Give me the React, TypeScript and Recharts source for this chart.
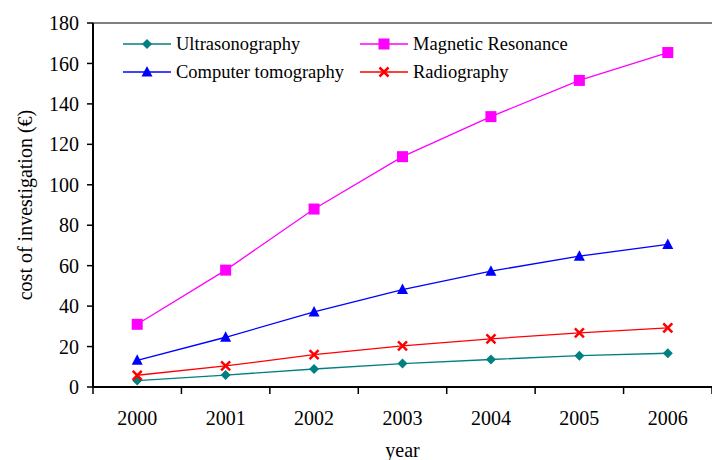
import React from "react";
import {
  LineChart,
  Line,
  XAxis,
  YAxis,
  ReferenceLine,
} from "recharts";

const years = [2000, 2001, 2002, 2003, 2004, 2005, 2006];
const ultrasonography = [3.2, 5.9, 8.9, 11.6, 13.6, 15.5, 16.7];
const magneticResonance = [31, 57.8, 88, 113.9, 133.7, 151.6, 165.4];
const computerTomography = [13.2, 24.6, 37.1, 48.2, 57.3, 64.7, 70.5];
const radiography = [5.8, 10.4, 16, 20.3, 23.8, 26.8, 29.2];
const yTicks = [0, 20, 40, 60, 80, 100, 120, 140, 160, 180];

// tick marks sit between the years, labels on the years
const xTicks = [...years.map((y) => y - 0.5), ...years, years[years.length - 1] + 0.5].sort(
  (a, b) => a - b
);

const data = years.map((year, i) => ({
  year,
  ultrasonography: ultrasonography[i],
  magneticResonance: magneticResonance[i],
  computerTomography: computerTomography[i],
  radiography: radiography[i],
}));

const FONT = '"Liberation Serif", "Times New Roman", Times, Tinos, "Nimbus Roman", "DejaVu Serif", serif';

type Shape = "diamond" | "square" | "triangle" | "cross";

const Marker = ({ cx, cy, shape, color }: { cx: number; cy: number; shape: Shape; color: string }) => {
  if (cx == null || cy == null) return null;
  switch (shape) {
    case "diamond":
      return (
        <polygon
          points={`${cx},${cy - 5} ${cx + 5},${cy} ${cx},${cy + 5} ${cx - 5},${cy}`}
          fill={color}
        />
      );
    case "square":
      return <rect x={cx - 5.5} y={cy - 5.5} width={11} height={11} fill={color} />;
    case "triangle":
      return (
        <polygon
          points={`${cx},${cy - 6} ${cx + 5.5},${cy + 4.5} ${cx - 5.5},${cy + 4.5}`}
          fill={color}
        />
      );
    default:
      return (
        <g stroke={color} strokeWidth={2.5}>
          <line x1={cx - 4.5} y1={cy - 4.5} x2={cx + 4.5} y2={cy + 4.5} />
          <line x1={cx - 4.5} y1={cy + 4.5} x2={cx + 4.5} y2={cy - 4.5} />
        </g>
      );
  }
};

const series: { key: string; name: string; color: string; shape: Shape }[] = [
  { key: "ultrasonography", name: "Ultrasonography", color: "#008080", shape: "diamond" },
  { key: "magneticResonance", name: "Magnetic Resonance", color: "#FF00FF", shape: "square" },
  { key: "computerTomography", name: "Computer tomography", color: "#0000FF", shape: "triangle" },
  { key: "radiography", name: "Radiography", color: "#FF0000", shape: "cross" },
];

const XTick = (props: any) => {
  const { x, y, payload } = props;
  const v = payload.value;
  if (!Number.isInteger(v)) {
    return <line x1={x} y1={y} x2={x} y2={y + 7} stroke="#000" strokeWidth={1.5} />;
  }
  return (
    <text x={x} y={y + 38} textAnchor="middle" style={{ fontFamily: FONT }} fontSize={20} fill="#000">
      {v}
    </text>
  );
};

const LegendBox = () => (
  <div style={{ position: "absolute", left: 0, top: 0, width: 712, pointerEvents: "none" }}>
    {series.map((s, i) => {
      const col = i % 2;
      const row = Math.floor(i / 2);
      const left = col === 0 ? 123 : 360;
      const top = 44 + row * 28;
      return (
        <div
          key={s.key}
          style={{
            position: "absolute",
            left,
            top: top - 14,
            height: 28,
            display: "flex",
            alignItems: "center",
            fontFamily: FONT,
            fontSize: 18.5,
            color: "#000",
            whiteSpace: "nowrap",
          }}
        >
          <svg width={48} height={28} style={{ marginRight: 5 }}>
            <line x1={0} y1={14} x2={48} y2={14} stroke={s.color} strokeWidth={1.3} />
            <Marker cx={24} cy={14} shape={s.shape} color={s.color} />
          </svg>
          {s.name}
        </div>
      );
    })}
  </div>
);

export default function App() {
  return (
    <div
      style={{
        position: "absolute",
        left: 0,
        top: 0,
        width: 712,
        height: 460,
        background: "#fff",
        fontFamily: FONT,
      }}
    >
      <LineChart
        width={712}
        height={460}
        data={data}
        margin={{ top: 23, right: 0, left: 0, bottom: 0 }}
        style={{ fontFamily: FONT }}
      >
        <XAxis
          dataKey="year"
          type="number"
          domain={[1999.5, 2006.5]}
          ticks={xTicks}
          interval={0}
          height={73}
          tickSize={0}
          tickMargin={0}
          tickLine={false}
          axisLine={{ stroke: "#000", strokeWidth: 2 }}
          tick={<XTick />}
          label={{
            value: "year",
            position: "insideBottom",
            offset: 3,
            style: { fontFamily: FONT, fontSize: 20, fill: "#000" },
          }}
        />
        <YAxis
          domain={[0, 180]}
          ticks={yTicks}
          interval={0}
          width={93}
          tickSize={6}
          tickMargin={8}
          axisLine={{ stroke: "#000", strokeWidth: 2 }}
          tickLine={{ stroke: "#000", strokeWidth: 1.5 }}
          tick={{ style: { fontFamily: FONT }, fontSize: 20, fill: "#000" }}
          label={{
            value: "cost of investigation (€)",
            angle: -90,
            position: "insideLeft",
            offset: 25,
            style: { fontFamily: FONT, fontSize: 20, fill: "#000", textAnchor: "middle" },
          }}
        />
        <ReferenceLine y={180} stroke="#808080" strokeWidth={2} />
        {series.map((s) => (
          <Line
            key={s.key}
            dataKey={s.key}
            name={s.name}
            stroke={s.color}
            strokeWidth={1.3}
            isAnimationActive={false}
            dot={(p: any) => <Marker key={`${s.key}-${p.index}`} cx={p.cx} cy={p.cy} shape={s.shape} color={s.color} />}
            activeDot={false}
          />
        ))}
      </LineChart>
      <LegendBox />
    </div>
  );
}
